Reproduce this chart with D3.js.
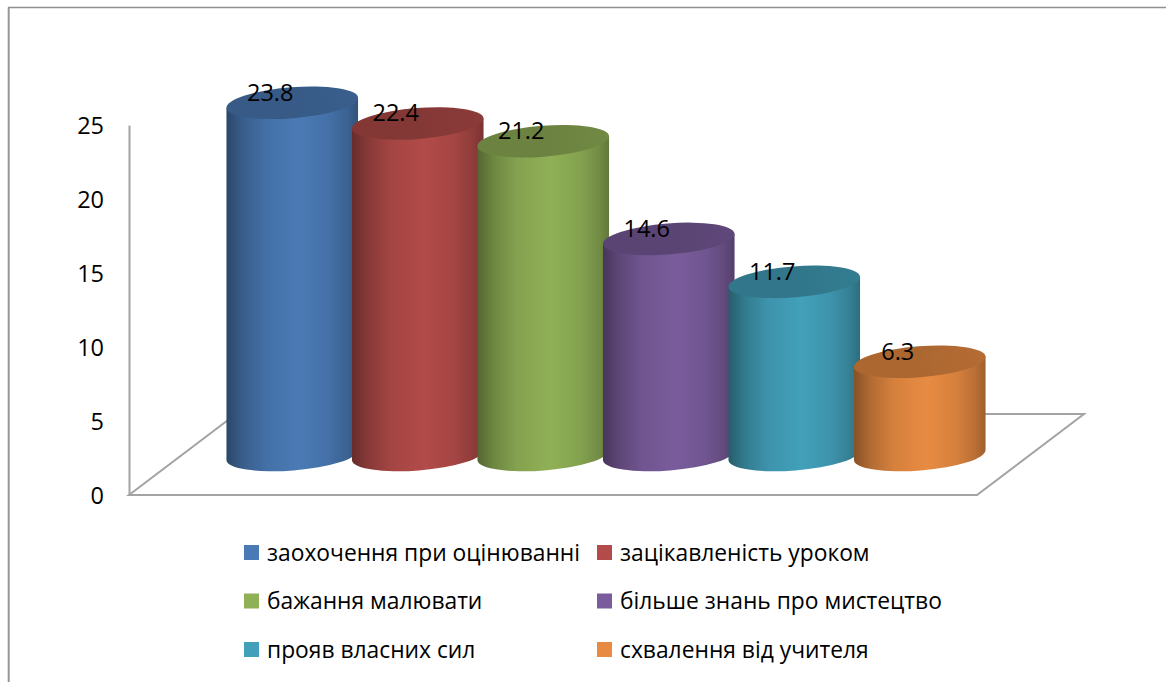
<!DOCTYPE html>
<html>
<head>
<meta charset="utf-8">
<script src="https://cdn.jsdelivr.net/npm/d3@7"></script>
<style>
html, body { margin: 0; padding: 0; background: #fff; overflow: hidden; }
text { font-family: "Open Sans", sans-serif; fill: #000; }
</style>
</head>
<body>
<div id="chart"></div>
<script>
var categories = ["заохочення при оцінюванні", "зацікавленість уроком", "бажання малювати", "більше знань про мистецтво", "прояв власних сил", "схвалення від учителя"];
var values = [23.8, 22.4, 21.2, 14.6, 11.7, 6.3];
var yTicks = [0, 5, 10, 15, 20, 25];
var colors = ["#4a7ab5", "#b24b49", "#90b056", "#7a5c9c", "#42a0ba", "#e88b42"];

var svgWidth = 1166, svgHeight = 682;
var floorDepth = 107, floorRise = 81;
var baseLift = 40;   // column base sits this far above the front of the floor
var rx = 66, ry = 15.5, tilt = -4.5;

var svg = d3.select("#chart").append("svg")
    .attr("width", svgWidth)
    .attr("height", svgHeight);

var defs = svg.append("defs");

var x = d3.scaleBand().domain(categories).range([229.5, 982.5]).padding(0);
var y = d3.scaleLinear().domain([0, 25]).range([495, 125]);
var color = d3.scaleOrdinal().domain(categories).range(colors);

// frame round the chart
svg.append("path")
    .attr("d", "M8.7,682V7.5")
    .attr("stroke", "#969696")
    .attr("stroke-width", 2);
svg.append("path")
    .attr("d", "M8,7.5H1166")
    .attr("stroke", "#8f8f8f")
    .attr("stroke-width", 1.3);

// floor
var fl = 129, fr = 977, fy = y(0);
svg.append("path")
    .attr("d", "M" + fl + "," + fy + "L" + (fl + floorDepth) + "," + (fy - floorRise) +
        "L" + (fr + floorDepth) + "," + (fy - floorRise) + "L" + fr + "," + fy + "Z")
    .attr("fill", "none")
    .attr("stroke", "#a3a3a3")
    .attr("stroke-width", 2);

// value axis
var yAxis = svg.append("g")
    .attr("transform", "translate(129,0)")
    .call(d3.axisLeft(y).tickValues(yTicks).tickSize(0).tickPadding(25));
yAxis.select(".domain").attr("stroke", "#a3a3a3").attr("stroke-width", 2);
yAxis.selectAll("text")
    .attr("y", 1)
    .style("font-size", "23.5px")
    .style("font-family", "'Open Sans', sans-serif");

function shade(c, k) {
    var h = d3.rgb(c);
    return d3.rgb(h.r * k, h.g * k, h.b * k).formatHex();
}

function addGradient(id, c, stops) {
    var g = defs.append("linearGradient").attr("id", id);
    stops.forEach(function(s) {
        g.append("stop").attr("offset", s[0]).attr("stop-color", shade(c, s[1]));
    });
}

var sideStops = [[0, 0.58], [0.12, 0.76], [0.3, 0.92], [0.55, 1], [0.78, 0.92], [0.92, 0.8], [1, 0.68]];
var topStops = [[0, 0.74], [0.5, 0.74], [1, 0.78]];

categories.forEach(function(d, i) {
    addGradient("side" + i, color(d), sideStops);
    addGradient("top" + i, color(d), topStops);
});

// tangent points of the tilted ellipse, relative to its centre
var rad = tilt * Math.PI / 180;
var dx = rx * Math.cos(rad), dy = rx * Math.sin(rad);

var bars = svg.selectAll(".bar")
    .data(categories)
    .enter().append("g")
    .attr("class", "bar");

function cx(d) { return x(d) + x.bandwidth() / 2; }
function topY(d, i) { return y(values[i]) - baseLift; }

bars.append("path")
    .attr("fill", function(d, i) { return "url(#side" + i + ")"; })
    .attr("d", function(d, i) {
        var c = cx(d), t = topY(d, i), b = y(0) - baseLift;
        return "M" + (c - dx) + "," + (t - dy) +
            "L" + (c - dx) + "," + (b - dy) +
            "A" + rx + "," + ry + " " + tilt + " 0 0 " + (c + dx) + "," + (b + dy) +
            "L" + (c + dx) + "," + (t + dy) + "Z";
    });

bars.append("ellipse")
    .attr("rx", rx)
    .attr("ry", ry)
    .attr("fill", function(d, i) { return "url(#top" + i + ")"; })
    .attr("transform", function(d, i) {
        return "translate(" + cx(d) + "," + topY(d, i) + ") rotate(" + tilt + ")";
    });

// data labels go over everything
svg.selectAll(".label")
    .data(categories)
    .enter().append("text")
    .attr("class", "label")
    .attr("x", function(d) { return cx(d) - 22; })
    .attr("y", function(d, i) { return topY(d, i) - 2; })
    .attr("text-anchor", "middle")
    .style("font-size", "23.5px")
    .text(function(d, i) { return values[i]; });

// legend, two columns
var legendCol = d3.scalePoint().domain([0, 1]).range([244, 597]);
var legendRow = d3.scalePoint().domain([0, 1, 2]).range([545, 642]);

var legend = svg.selectAll(".legend")
    .data(categories)
    .enter().append("g")
    .attr("class", "legend")
    .attr("transform", function(d, i) {
        return "translate(" + legendCol(i % 2) + "," + legendRow(Math.floor(i / 2)) + ")";
    });

legend.append("rect")
    .attr("width", 15)
    .attr("height", 15)
    .attr("fill", function(d) { return color(d); });

legend.append("text")
    .attr("x", 23)
    .attr("y", 15.5)
    .style("font-size", "22.8px")
    .text(function(d) { return d; });
</script>
</body>
</html>
